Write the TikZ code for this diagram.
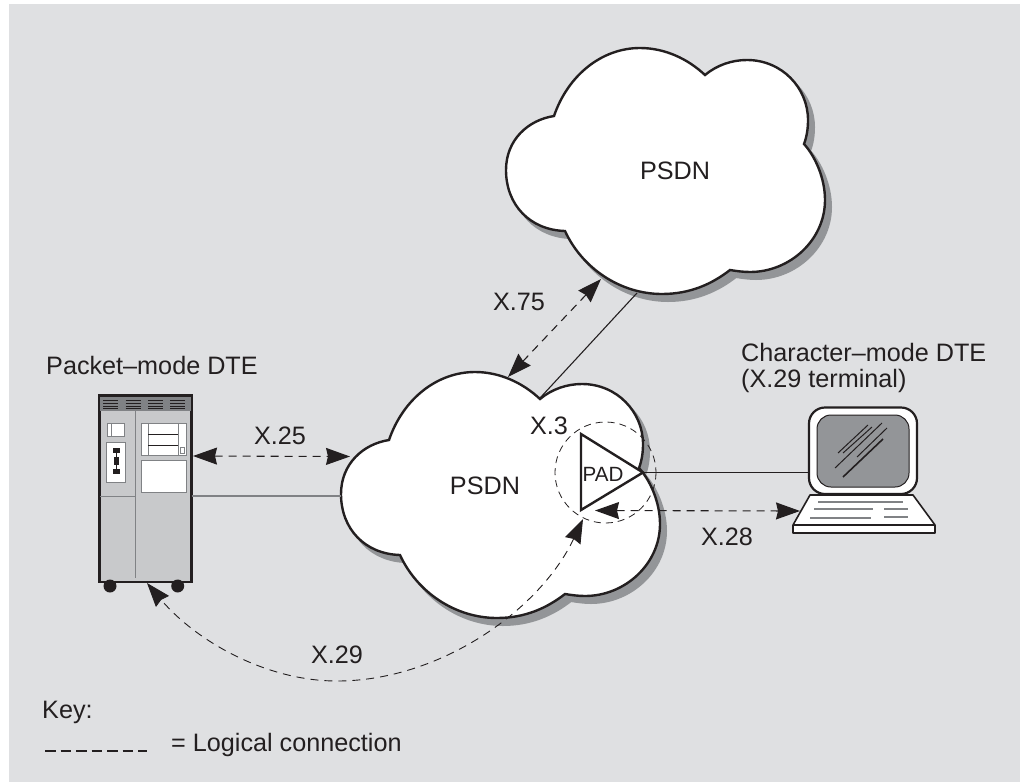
\documentclass[tikz,border=0pt]{standalone}
\usepackage{fontspec}
\setmainfont{Liberation Sans}
\usetikzlibrary{arrows.meta}
\definecolor{bgc}{HTML}{DFE0E2}
\definecolor{cloudgray}{HTML}{939598}
\definecolor{ink}{HTML}{231F20}
\definecolor{bodyc}{HTML}{C8C9CB}
\definecolor{bandc}{HTML}{808285}
\newcommand{\cloudshape}{(554,116) .. controls (568,75) and (602,48) .. (640,48)
 .. controls (665,48) and (688,59) .. (705,75)
 .. controls (717,65) and (732,60) .. (747,60)
 .. controls (782,60) and (808,88) .. (808,120)
 .. controls (808,128) and (807,136) .. (804,144)
 .. controls (815,156) and (825,178) .. (825,200)
 .. controls (825,240) and (790,272) .. (750,272)
 .. controls (743,272) and (736,271) .. (730,270)
 .. controls (712,284) and (690,294) .. (662,294)
 .. controls (620,294) and (582,268) .. (565,231)
 .. controls (530,230) and (506,205) .. (506,170)
 .. controls (506,140) and (528,120) .. (554,116) -- cycle}
\tikzset{
 x=1pt,y=-1pt,
 lbl/.style={text=ink,font=\fontsize{25.2}{30}\selectfont,inner sep=0pt},
 lblw/.style={lbl,anchor=west},
 cloudfill/.style={fill=white,draw=ink,line width=2.4pt,line join=miter},
 cloudback/.style={fill=cloudgray,draw=cloudgray,line width=2pt},
 link/.style={draw=ink,line width=1.1pt},
 bighead/.style={{Stealth[length=24pt,width=17pt,inset=2pt]}-{Stealth[length=24pt,width=17pt,inset=2pt]}},
 logical/.style={draw=ink,line width=1.1pt,dash pattern=on 8pt off 6pt,bighead},
 panel/.style={fill=white,draw=bandc,line width=1pt},
 thinl/.style={draw=bandc,line width=1pt},
 vent/.style={draw=ink,line width=.8pt},
 keyl/.style={draw=bandc,line width=1.2pt},
 glint/.style={draw=ink,line width=1pt},
}
\begin{document}
\begin{tikzpicture}
\useasboundingbox (0,0) rectangle (1020,782);
\fill[bgc] (9,4) rectangle (1020,782);
% clouds
\begin{scope}[xshift=6pt,yshift=-7pt]
 \path[cloudback] \cloudshape;
\end{scope}
\begin{scope}[xshift=-159pt,yshift=-331pt]
 \path[cloudback] \cloudshape;
\end{scope}
\coordinate (cloudAbottom) at (637,293);
\coordinate (cloudBnotch) at (540,398);
\draw[link] (cloudAbottom) -- (cloudBnotch);
\draw[cloudfill] \cloudshape;
\begin{scope}[xshift=-165pt,yshift=-324pt]
 \draw[cloudfill] \cloudshape;
\end{scope}
\node[lbl] (psdnA) at (675,171) {PSDN};
\node[lbl] (psdnB) at (485,486) {PSDN};
% cabinet
\node[fill=bodyc,draw=ink,line width=2.2pt,minimum width=92pt,minimum height=187pt,inner sep=0pt,outer sep=0pt] (cabinet) at (145.5,488.5) {};
\coordinate (cabL) at (191.5,496);
\coordinate (cloudL) at (341,496);
\draw[draw=bandc,line width=1.3pt] (cabL) -- (cloudL);
\fill[bandc] (100,397) rectangle (191,411);
\draw[ink,line width=2.2pt] (99,395.5) -- (192,395.5);
\foreach \xa in {103,125.5,148,170}{
 \foreach \ya in {400.7,403.3,406,408.3}{
  \draw[vent] (\xa,\ya) -- ++(15,0);
 }
}
\draw[thinl] (135.3,411) -- (135.3,578);
\draw[thinl] (100,496) -- (135.3,496);
\draw[panel] (107,423) rectangle (124,436);
\draw[thinl] (111,423) -- (111,436);
\draw[panel] (106.5,442) rectangle (125,482);
\draw[ink,line width=1pt] (116.5,450) -- (116.5,471);
\fill[ink] (112.5,448) rectangle (120,453);
\fill[ink] (114,457) rectangle (119,465);
\fill[ink] (112.5,469) rectangle (120,474);
\draw[panel] (141,423) rectangle (186.7,455);
\draw[thinl] (148,423) -- (148,455);
\draw[thinl] (178,423) -- (178,455);
\draw[ink,line width=.9pt] (148,434) -- (178,434);
\draw[ink,line width=.9pt] (148,445) -- (178,445);
\draw[draw=bandc,fill=white,line width=.8pt] (180.5,447) rectangle (184.5,453);
\draw[panel] (141,460.7) rectangle (186.7,492);
\fill[ink] (110,586) circle (6.5);
\fill[ink] (177.7,586) circle (6.5);
% terminal
\draw[fill=white,draw=ink,line width=2.2pt,rounded corners=16pt] (809,407.5) rectangle (917,494) ;
\draw[fill=cloudgray,draw=ink,line width=1pt,rounded corners=14pt] (817,415) rectangle (909,487);
\draw[glint] (838,453) -- (868,425);
\draw[glint] (843,453) -- (872,427);
\draw[glint] (835,468) -- (882,423);
\draw[glint] (857,457) -- (887,428);
\draw[glint,line width=1.6pt] (843,477) -- (883,439);
\draw[fill=white,draw=ink,line width=1.6pt,line join=round] (810,495) -- (913,495) -- (935,525) -- (935,533) -- (793,533) -- (793,525) -- cycle;
\draw[ink,line width=1.6pt] (793,525) -- (935,525);
\draw[keyl] (818,502) -- (903,502);
\draw[keyl] (814,509) -- (873,509);
\draw[keyl] (884,509) -- (908,509);
\draw[keyl] (810,518) -- (871,518);
\draw[keyl] (884,517) -- (908,517);
% PAD
\coordinate (padTip) at (643,472.5);
\coordinate (monitorL) at (809,472.5);
\draw[link] (padTip) -- (monitorL);
\draw[ink,line width=.8pt,dash pattern=on 7pt off 5pt] (605.5,472.5) circle (50.5);
\draw[ink,line width=2.4pt,line join=miter] (581,434) -- (padTip) -- (581,510) -- cycle;
\node[lbl,font=\fontsize{20.6}{24}\selectfont] (pad) at (603,474) {PAD};
% connectors
\coordinate (x75a) at (601,279);
\coordinate (x75b) at (508,377);
\draw[logical] (x75a) -- (x75b);
\coordinate (x25a) at (193,456);
\coordinate (x25b) at (350,456.5);
\draw[logical] (x25a) -- (x25b);
\coordinate (x28a) at (595,510.5);
\coordinate (x28b) at (800,511);
\draw[logical] (x28a) -- (x28b);
\coordinate (x29a) at (583,519);
\coordinate (x29m) at (337,681);
\coordinate (x29b) at (147,583);
\draw[draw=ink,line width=.9pt,dash pattern=on 8pt off 6pt,bighead]
 (x29a) .. controls (540,610) and (440,681) .. (x29m) .. controls (265,681) and (195,640) .. (x29b);
% labels
\node[lbl] (l75) at (519,302) {X.75};
\node[lbl] (l25) at (280,436) {X.25};
\node[lbl] (l3) at (549,426) {X.3};
\node[lbl] (l28) at (727,537) {X.28};
\node[lbl] (l29) at (337,655) {X.29};
\node[lblw] (pm) at (46,365) {Packet–mode DTE};
\node[lblw] (cm) at (741,352) {Character–mode DTE};
\node[lblw] (xt) at (741,381) {(X.29 terminal)};
\node[lblw] (key) at (42,712) {Key:};
\node[lblw] (kl) at (171,745) {= Logical connection};
\coordinate (ka) at (45,751);
\coordinate (kb) at (147,751);
\draw[ink,line width=1.5pt,dash pattern=on 10.5pt off 5pt] (ka) -- (kb);
\end{tikzpicture}
\end{document}
